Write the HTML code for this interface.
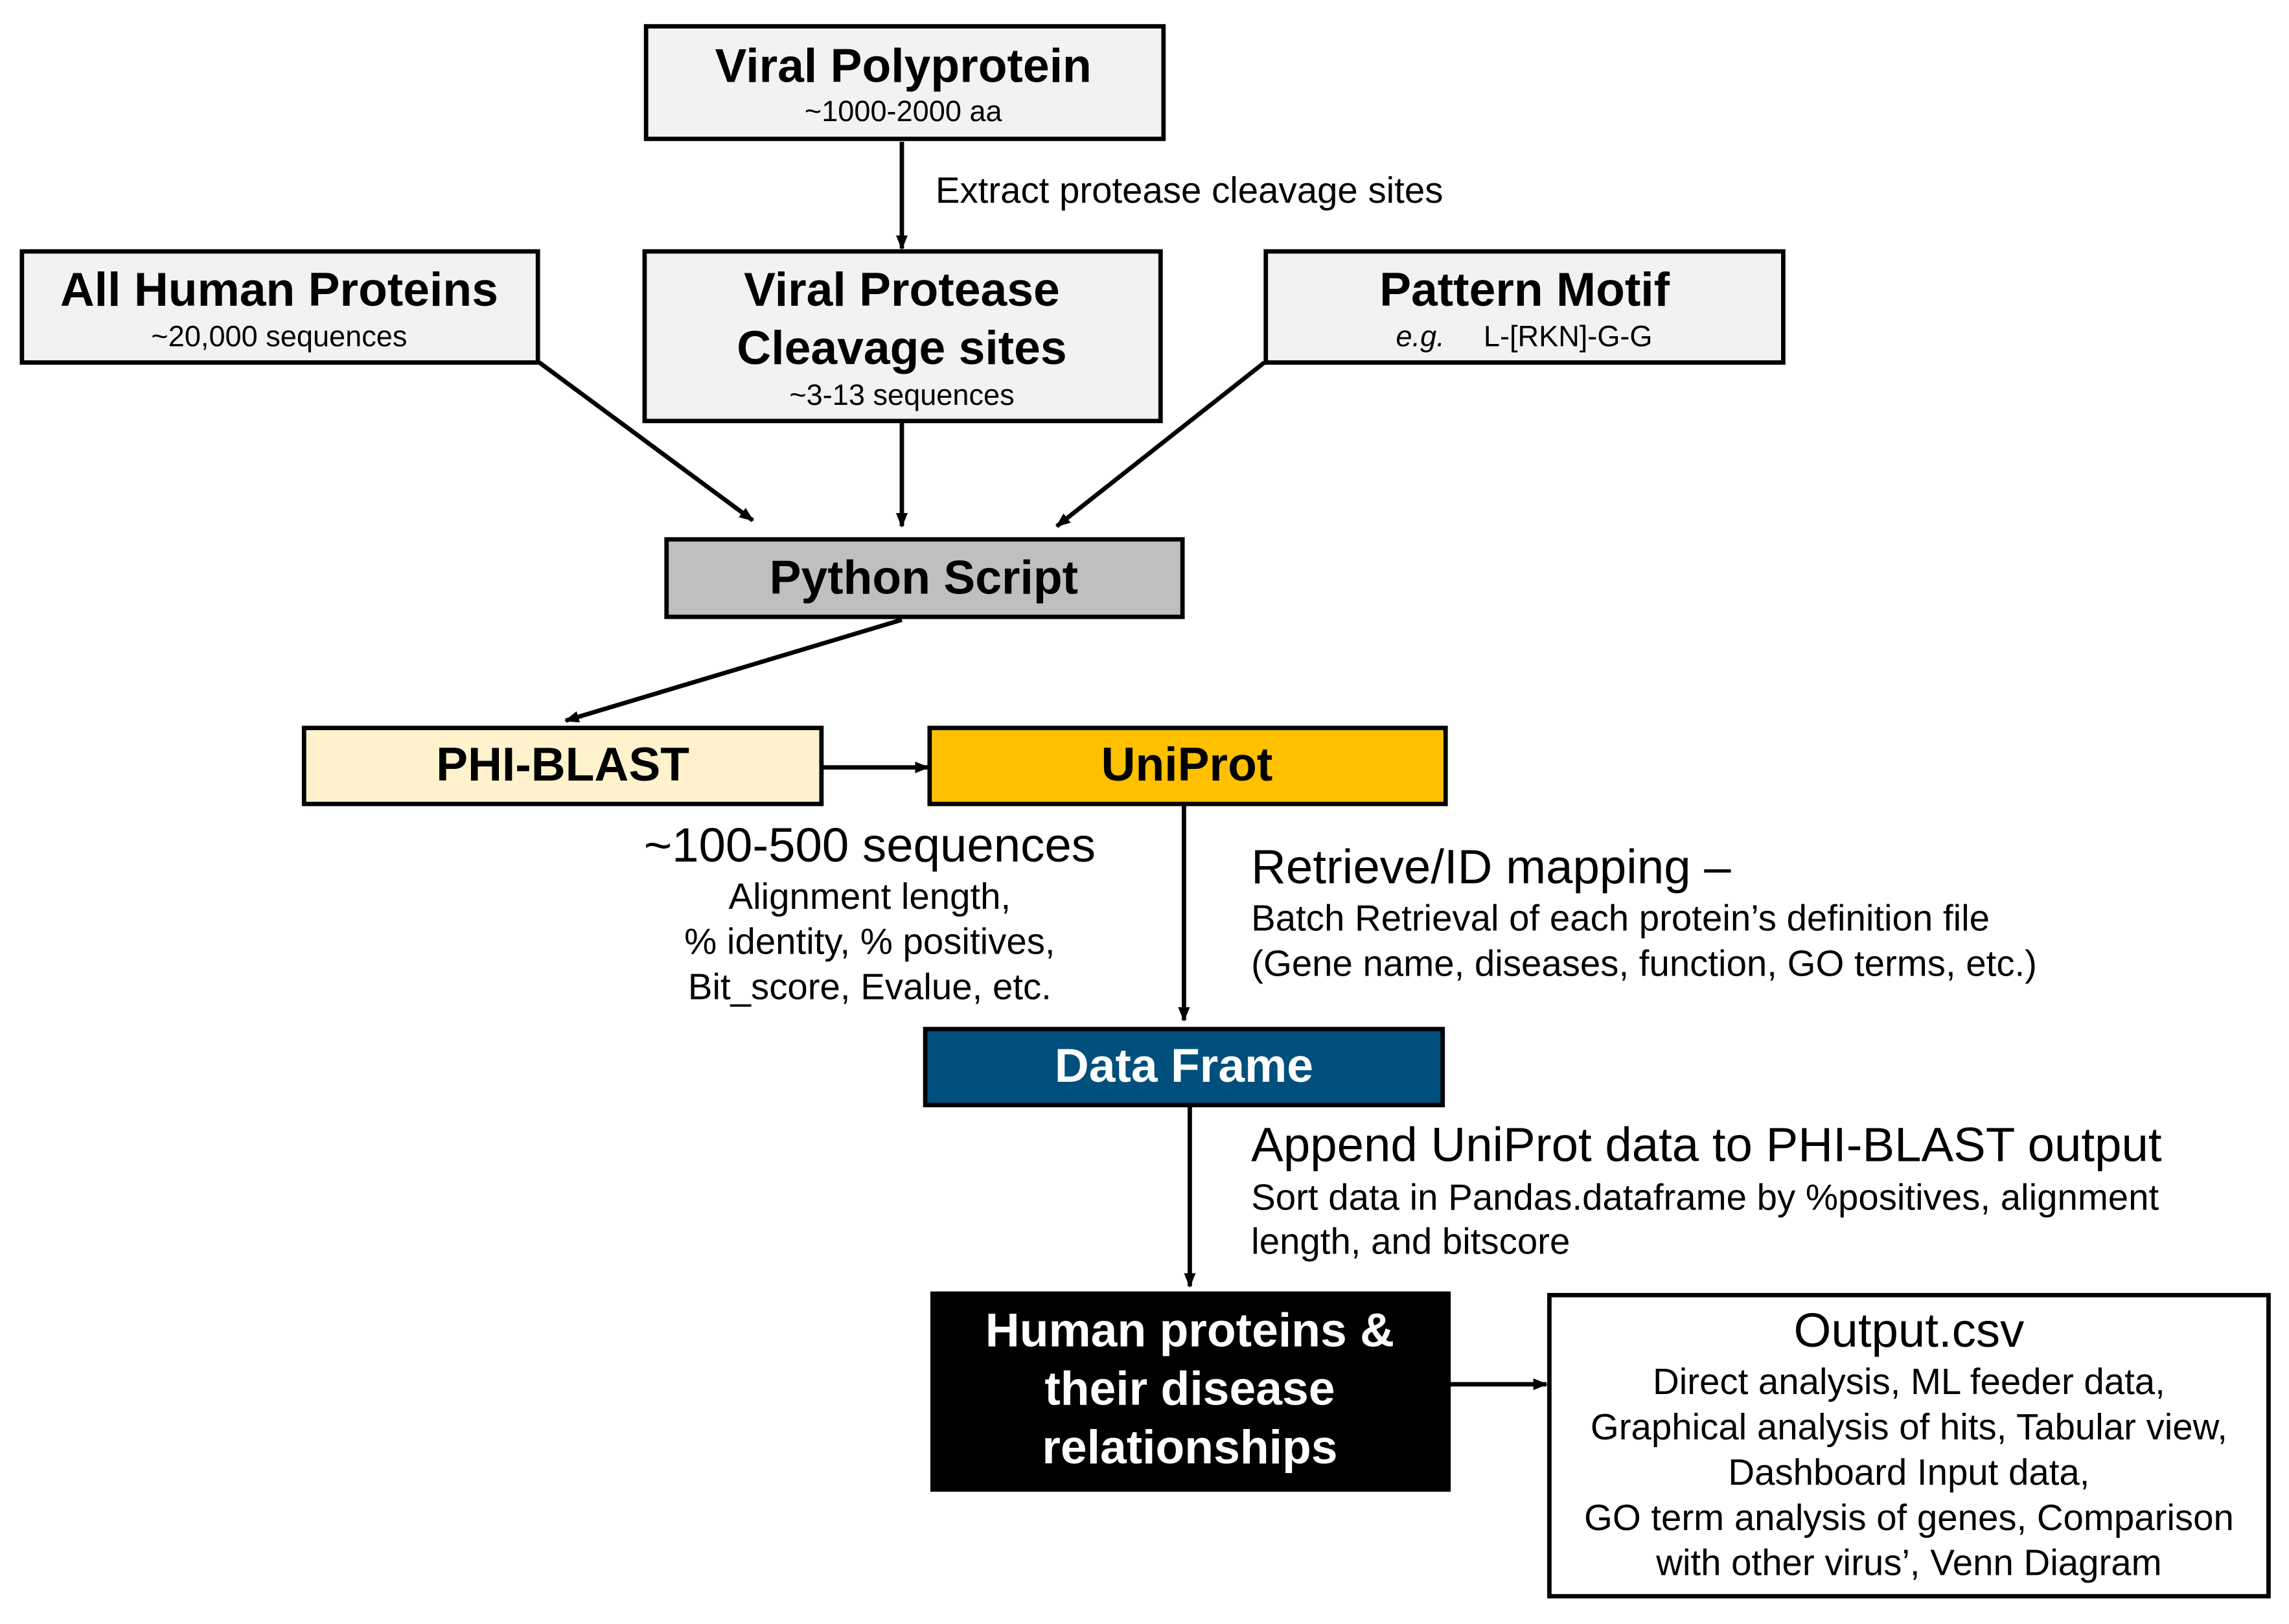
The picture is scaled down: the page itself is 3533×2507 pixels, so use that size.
<!DOCTYPE html>
<html><head><meta charset="utf-8"><style>
html,body{margin:0;padding:0;background:#fff;}
svg{display:block;}
text{font-family:"Liberation Sans",Arial,sans-serif;fill:#000;}
.b{font-weight:bold;font-size:32.5px;}
.s{font-size:20px;}
.m{font-size:25px;}
.l{font-size:33px;}
</style></head><body>
<svg width="3533" height="2507" viewBox="0 0 1566 1111" preserveAspectRatio="none" xmlns="http://www.w3.org/2000/svg">
<defs>
<marker id="a" markerWidth="10" markerHeight="10" refX="9" refY="5" orient="auto" markerUnits="userSpaceOnUse">
<path d="M0,1 L10,5 L0,9 z" fill="#000"/>
</marker>
</defs>
<g stroke="#000" stroke-width="3">
<rect x="442" y="18" width="354" height="77" fill="#f2f2f2"/>
<rect x="15" y="172" width="353" height="76" fill="#f2f2f2"/>
<rect x="441" y="172" width="353" height="116" fill="#f2f2f2"/>
<rect x="866" y="172" width="354" height="76" fill="#f2f2f2"/>
<rect x="456" y="369" width="353" height="53" fill="#bfbfbf"/>
<rect x="208" y="498" width="354" height="52" fill="#fff2cc"/>
<rect x="636" y="498" width="353" height="52" fill="#ffc000"/>
<rect x="633" y="704" width="354" height="52" fill="#004f7c"/>
<rect x="638" y="885" width="353" height="134" fill="#000"/>
<rect x="1060" y="886" width="492" height="206" fill="#fff"/>
</g>
<g stroke="#000" stroke-width="3" fill="none" marker-end="url(#a)">
<line x1="617" y1="97" x2="617" y2="170"/>
<line x1="369" y1="248" x2="515" y2="356"/>
<line x1="617" y1="289" x2="617" y2="360"/>
<line x1="865" y1="248" x2="723" y2="360"/>
<line x1="617" y1="424" x2="387" y2="493"/>
<line x1="563" y1="525" x2="635" y2="525"/>
<line x1="810" y1="551" x2="810" y2="698"/>
<line x1="814" y1="757" x2="814" y2="880"/>
<line x1="992" y1="947" x2="1058" y2="947"/>
</g>
<g text-anchor="middle" dominant-baseline="central">
<text x="618" y="45" class="b">Viral Polyprotein</text>
<text x="618" y="76" class="s">~1000-2000 aa</text>
<text x="191" y="198" class="b">All Human Proteins</text>
<text x="191" y="230" class="s">~20,000 sequences</text>
<text x="617" y="198" class="b">Viral Protease</text>
<text x="617" y="238" class="b">Cleavage sites</text>
<text x="617" y="270" class="s">~3-13 sequences</text>
<text x="1043" y="198" class="b">Pattern Motif</text>
<text x="632" y="395" class="b">Python Script</text>
<text x="385" y="523" class="b">PHI-BLAST</text>
<text x="812" y="523" class="b">UniProt</text>
<text x="810" y="729" class="b" style="fill:#fff">Data Frame</text>
<text x="814" y="910" class="b" style="fill:#fff">Human proteins &amp;</text>
<text x="814" y="950" class="b" style="fill:#fff">their disease</text>
<text x="814" y="990" class="b" style="fill:#fff">relationships</text>
<text x="595" y="578" class="l">~100-500 sequences</text>
<text x="595" y="613" class="m">Alignment length,</text>
<text x="595" y="644" class="m">% identity, % positives,</text>
<text x="595" y="675" class="m">Bit_score, Evalue, etc.</text>
<text x="1306" y="910" class="l">Output.csv</text>
<text x="1306" y="945" class="m">Direct analysis, ML feeder data,</text>
<text x="1306" y="976" class="m">Graphical analysis of hits, Tabular view,</text>
<text x="1306" y="1007" class="m">Dashboard Input data,</text>
<text x="1306" y="1038" class="m">GO term analysis of genes, Comparison</text>
<text x="1306" y="1069" class="m">with other virus’, Venn Diagram</text>
</g>
<g dominant-baseline="central">
<text x="955" y="230" class="s" font-style="italic">e.g.</text>
<text x="1015" y="230" class="s">L-[RKN]-G-G</text>
<text x="640" y="130" class="m">Extract protease cleavage sites</text>
<text x="856" y="593" class="l">Retrieve/ID mapping –</text>
<text x="856" y="628" class="m">Batch Retrieval of each protein’s definition file</text>
<text x="856" y="659" class="m">(Gene name, diseases, function, GO terms, etc.)</text>
<text x="856" y="783" class="l">Append UniProt data to PHI-BLAST output</text>
<text x="856" y="819" class="m">Sort data in Pandas.dataframe by %positives, alignment</text>
<text x="856" y="849" class="m">length, and bitscore</text>
</g>
</svg>
</body></html>
